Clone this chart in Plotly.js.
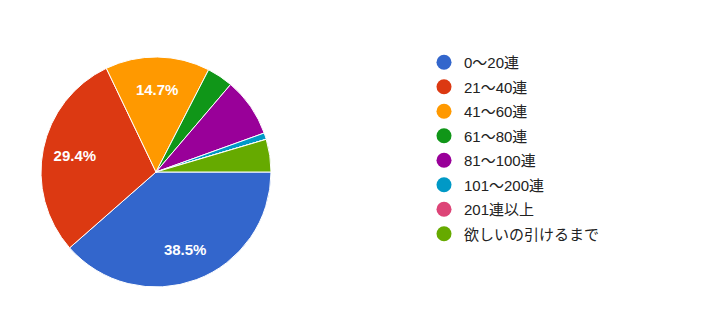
<!DOCTYPE html>
<html><head><meta charset="utf-8">
<script src="https://cdn.plot.ly/plotly-3.0.1.min.js"></script>
<style>html,body{margin:0;padding:0;background:#fff}#c{width:701px;height:313px}</style>
</head><body><div id="c"></div>
<script>
const categories = ['0〜20連','21〜40連','41〜60連','61〜80連','81〜100連','101〜200連','201連以上','欲しいの引けるまで'];
const counts = [42, 32, 16, 4, 9, 1, 0, 5];
const colors = ['#3366cc','#dc3912','#ff9900','#109618','#990099','#0099c6','#dd4477','#66aa00'];
const shownLabels = [true, true, true, false, false, false, false, false];

const FONT = 'Arial, "Liberation Sans", "Noto Sans CJK JP", sans-serif';
const total = counts.reduce((a,b)=>a+b,0);
const texts = counts.map((v,i)=> shownLabels[i] ? (100*v/total).toFixed(1)+'%' : '');
const domain = {x:[41/701, 271/701], y:[(313-287)/313, (313-57)/313]};

const pie = {
  type:'pie', values:counts, labels:categories, sort:false,
  direction:'clockwise', rotation:90,
  marker:{colors:colors, line:{color:'#ffffff', width:1}},
  textinfo:'none', hoverinfo:'label+percent', showlegend:false, domain:domain
};
// transparent ring carrying the percentage labels at ~0.7 radius
const labelRing = {
  type:'pie', values:counts, labels:categories, sort:false,
  direction:'clockwise', rotation:90, hole:0.44,
  marker:{colors:colors.map(()=> 'rgba(0,0,0,0)'), line:{width:0}},
  text:texts, textinfo:'text', textposition:'inside', insidetextorientation:'horizontal',
  textfont:{family:FONT, size:15, color:'#ffffff', weight:'bold'},
  hoverinfo:'skip', showlegend:false, domain:domain
};
const legendTraces = categories.map((c,i)=>({
  type:'scatter', mode:'markers', x:[null], y:[null], name:c,
  legendgroup:'g'+i, showlegend:true,
  marker:{color:colors[i], size:15, symbol:'circle'}, hoverinfo:'skip'
}));

const layout = {
  width:701, height:313, margin:{l:0,r:0,t:0,b:0},
  paper_bgcolor:'#ffffff', plot_bgcolor:'#ffffff',
  xaxis:{visible:false}, yaxis:{visible:false},
  showlegend:true,
  legend:{x:424/701, xanchor:'left', y:(313-46)/313, yanchor:'top',
    font:{family:FONT, size:15, color:'#222222'}, tracegroupgap:2,
    traceorder:'grouped', itemsizing:'trace', bgcolor:'rgba(0,0,0,0)'},
  font:{family:FONT}
};
Plotly.newPlot('c', [pie, labelRing].concat(legendTraces), layout, {displayModeBar:false, staticPlot:true});
</script></body></html>
